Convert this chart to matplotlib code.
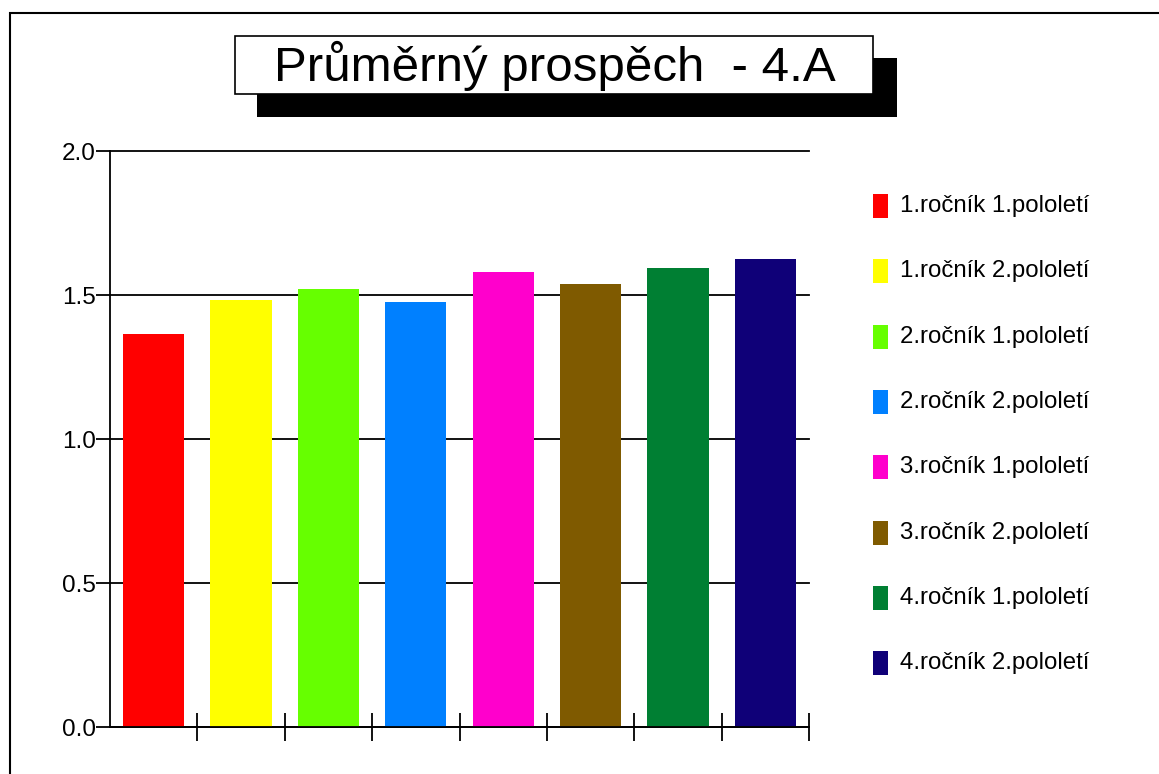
import matplotlib.pyplot as plt
from matplotlib.patches import Rectangle

# data
labels = ['1.ročník 1.pololetí', '1.ročník 2.pololetí', '2.ročník 1.pololetí',
          '2.ročník 2.pololetí', '3.ročník 1.pololetí', '3.ročník 2.pololetí',
          '4.ročník 1.pololetí', '4.ročník 2.pololetí']
values = [1.365, 1.483, 1.521, 1.476, 1.580, 1.538, 1.594, 1.625]
colors = ['#FF0000', '#FFFF00', '#66FF00', '#0080FF',
          '#FF00CC', '#7F5A00', '#007F33', '#0F0078']
title = 'Průměrný prospěch  - 4.A'

W, H = 1159, 774
plt.rcParams['font.family'] = ['Liberation Sans', 'DejaVu Sans']
fig = plt.figure(figsize=(W / 100, H / 100), dpi=100)


def fx(px):
    return px / W


def fy(py):
    return 1 - py / H


# outer frame
fig.add_artist(Rectangle((fx(10), fy(800)), fx(1200), fy(13) - fy(800),
                         transform=fig.transFigure, fill=False, ec='black', lw=1.5))

# title box with shadow
fig.add_artist(Rectangle((fx(257), fy(117)), fx(897 - 257), fy(58) - fy(117),
                         transform=fig.transFigure, fc='black', ec='black', lw=0))
fig.add_artist(Rectangle((fx(235), fy(94)), fx(873 - 235), fy(36) - fy(94),
                         transform=fig.transFigure, fc='white', ec='black', lw=1.2))
fig.text(fx(555), fy(66), title, ha='center', va='center', fontsize=35.5)

ax = fig.add_axes([fx(110), fy(727), fx(809 - 110), fy(151) - fy(727)])
x = list(range(len(values)))
bars = ax.bar(x, values, width=0.7, color=colors)

ax.set_xlim(-0.5, len(values) - 0.5)
ax.set_ylim(0, 2.0)
ax.set_yticks([0, 0.5, 1.0, 1.5, 2.0])
ax.set_yticklabels(['0.0', '0.5', '1.0', '1.5', '2.0'])
ax.yaxis.grid(True, color='black', lw=1.3)
for gl in ax.get_ygridlines():
    gl.set_clip_on(False)
ax.set_axisbelow(True)
ax.set_xticks([i + 0.5 for i in x])
ax.set_xticklabels([])
ax.tick_params(axis='x', direction='inout', length=20, width=1.3)
ax.tick_params(axis='y', direction='out', length=10, width=1.3, pad=0, labelsize=17.5)
ax.spines['top'].set_visible(False)
ax.spines['right'].set_visible(False)
ax.spines['left'].set_linewidth(1.3)
ax.spines['bottom'].set_linewidth(1.3)

# legend
for i, (lab, c) in enumerate(zip(labels, colors)):
    cy = 206 + i * 65.3
    fig.add_artist(Rectangle((fx(873), fy(cy + 12)), fx(15), fy(cy - 12) - fy(cy + 12),
                             transform=fig.transFigure, fc=c, ec='none'))
    fig.text(fx(900), fy(cy), lab, ha='left', va='center', fontsize=17.3)

fig.savefig('out.png', dpi=100)
